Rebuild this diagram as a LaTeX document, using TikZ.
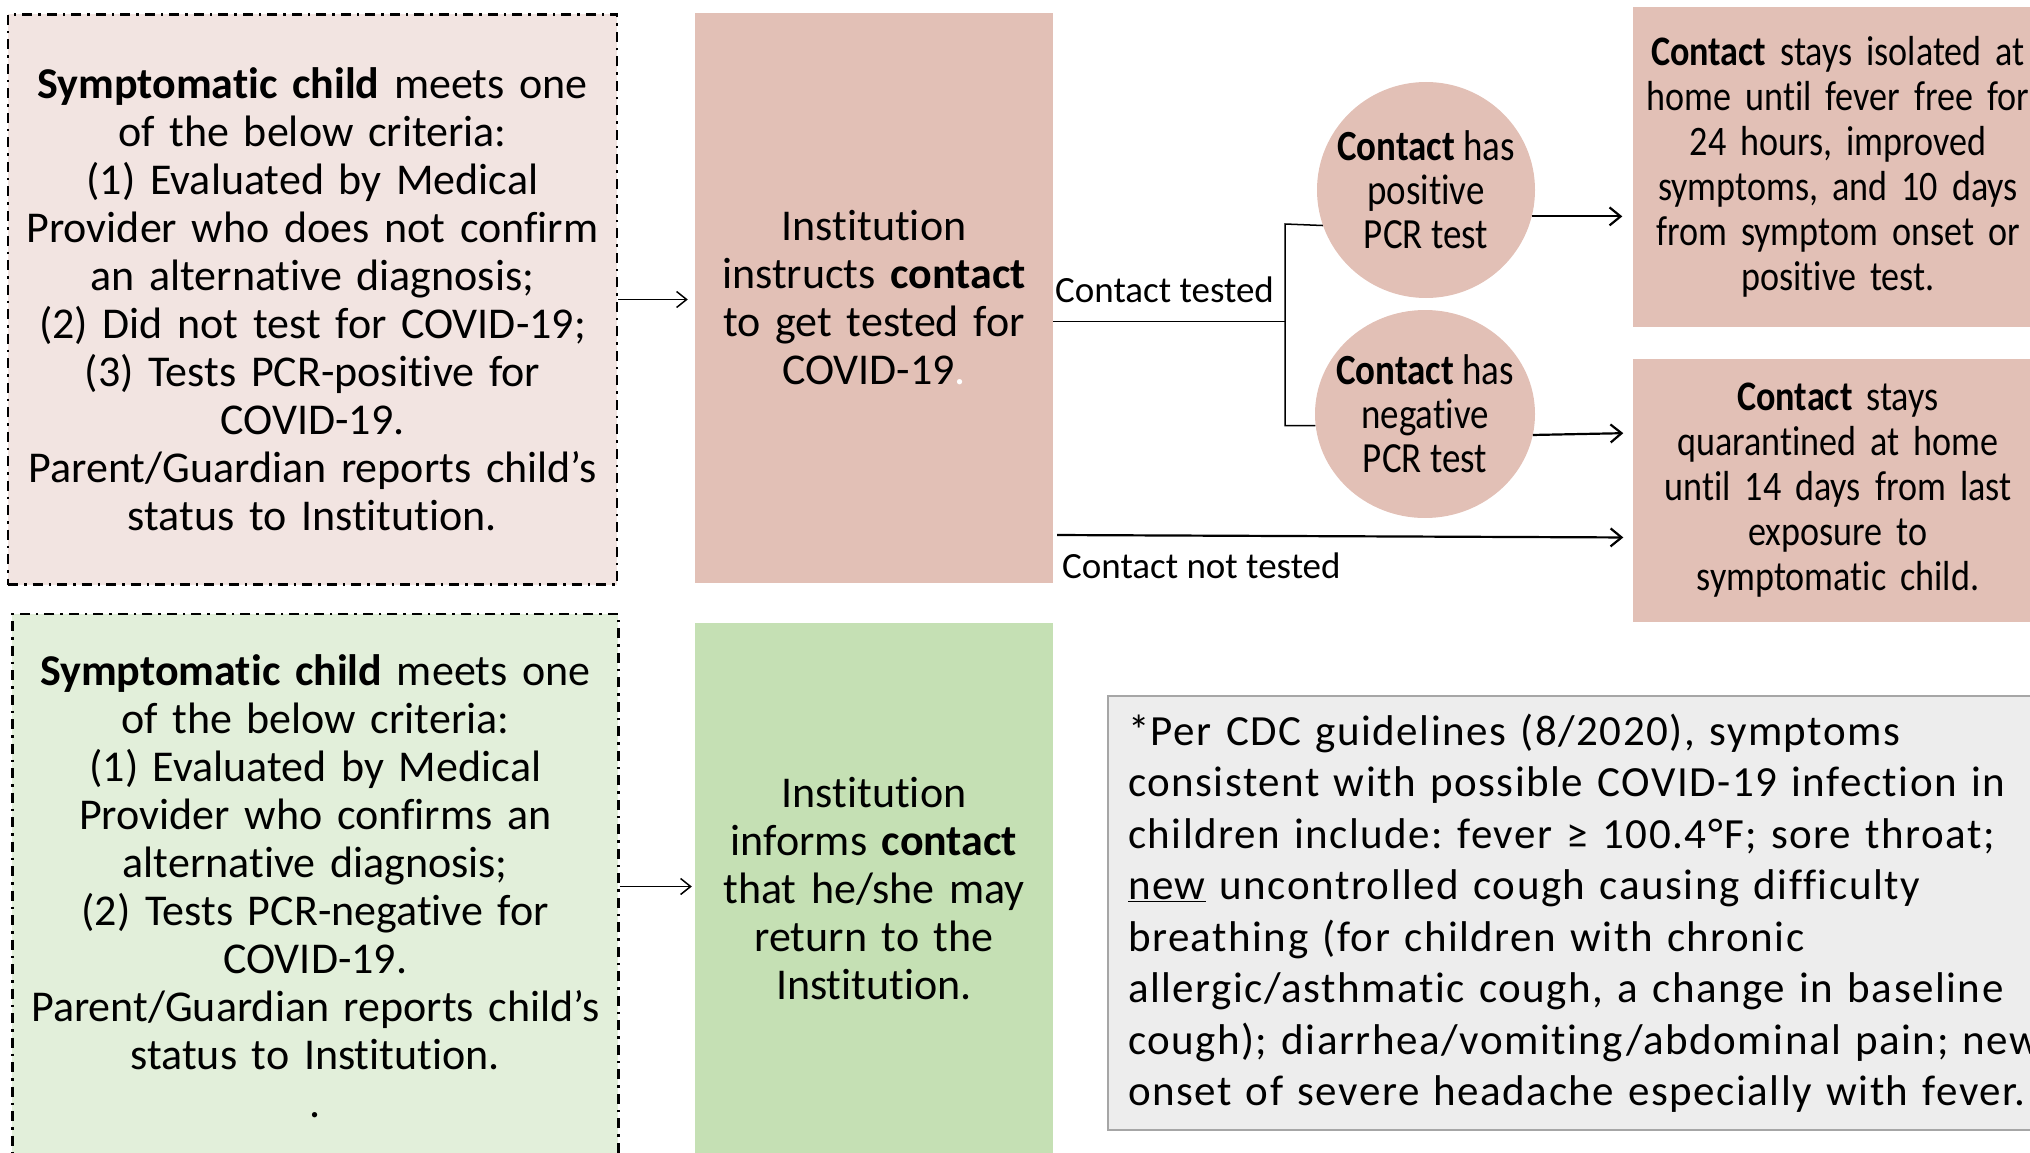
\documentclass[tikz,border=0pt]{standalone}
\usepackage{fontspec}
\defaultfontfeatures{Ligatures={NoCommon,TeX}}
\setmainfont{Carlito}
\newfontfamily\condfont{Carlito}[FakeStretch=0.86]
\newfontfamily\spacedfont{Carlito}[LetterSpace=3.5]
\usetikzlibrary{arrows.meta,shapes.geometric,calc}
\definecolor{pinkA}{HTML}{F2E4E1}
\definecolor{pinkB}{HTML}{E2C0B6}
\definecolor{greenA}{HTML}{E2EFDA}
\definecolor{greenB}{HTML}{C5E0B4}
\definecolor{greyA}{HTML}{EDEDED}
\definecolor{greyB}{HTML}{A6A6A6}
\frenchspacing
\begin{document}
\begin{tikzpicture}[x=1pt,y=-1pt,
  critbox/.style={draw=black, line width=2.5pt, dash pattern=on 10pt off 6pt on 2.5pt off 6pt, inner sep=0pt, align=center, text width=600pt, font=\fontsize{44}{48}\selectfont},
  instbox/.style={inner sep=0pt, align=center, text width=350pt, minimum width=358pt, font=\fontsize{44}{48}\selectfont},
  outbox/.style={fill=pinkB, inner sep=0pt, align=center, text width=400pt, minimum width=411pt, font=\condfont\fontsize{42}{45}\selectfont},
  result/.style={ellipse, fill=pinkB, inner sep=0pt},
  restext/.style={inner sep=0pt, align=center, font=\condfont\fontsize{43}{44}\selectfont},
  notebox/.style={draw=greyB, line width=2.5pt, fill=greyA, text width=1000pt, inner xsep=20pt, inner ysep=0pt, align=left, font=\spacedfont\fontsize{43}{51.5}\selectfont},
  lbl/.style={font=\fontsize{37}{40}\selectfont, inner sep=0pt, anchor=base west},
  thinline/.style={line width=1.5pt},
  arr/.style={line width=2.2pt, -{Straight Barb[length=11pt,width=18pt,line width=2.2pt]}},
  thinarr/.style={line width=1.5pt, -{Straight Barb[length=10pt,width=16pt,line width=1.5pt]}},
]
\useasboundingbox (0,0) rectangle (2030,1153);
\clip (0,0) rectangle (2030,1153);

% left criteria boxes
\node[critbox, fill=pinkA, minimum width=609pt, minimum height=570pt] (tl) at (312.5,299.5)
 {\textbf{Symptomatic child} meets one\\of the below criteria:\\(1) Evaluated by Medical\\Provider who does not confirm\\an alternative diagnosis;\\(2) Did not test for COVID-19;\\(3) Tests PCR-positive for\\COVID-19.\\Parent/Guardian reports child’s\\status to Institution.};
\node[critbox, fill=greenA, minimum width=606pt, minimum height=545pt] (bl) at (315.3,886.5)
 {\textbf{Symptomatic child} meets one\\of the below criteria:\\(1) Evaluated by Medical\\Provider who confirms an\\alternative diagnosis;\\(2) Tests PCR-negative for\\COVID-19.\\Parent/Guardian reports child’s\\status to Institution.\\.};

% institution boxes
\node[instbox, fill=pinkB, minimum height=570pt] (mt) at (874,298)
 {Institution\\instructs \textbf{contact}\\to get tested for\\COVID-19{\color{white}.}};
\node[instbox, fill=greenB, minimum height=532pt] (mb) at (874,889)
 {Institution\\informs \textbf{contact}\\that he/she may\\return to the\\Institution.};

% outcome boxes
\node[outbox, minimum height=319pt] (rt) at (1838,167)
 {\textbf{Contact} stays isolated at\\home until fever free for\\24 hours, improved\\symptoms, and 10 days\\from symptom onset or\\positive test.};
\node[outbox, minimum height=263pt] (rb) at (1838,490.5)
 {\textbf{Contact} stays\\quarantined at home\\until 14 days from last\\exposure to\\symptomatic child.};

% test results
\node[result, minimum width=218pt, minimum height=216pt] (pos) at (1426,190) {};
\node[result, minimum width=220pt, minimum height=208pt] (neg) at (1425,414) {};
\node[restext] (post) at (pos) {\textbf{Contact} has\\positive\\PCR test};
\node[restext] (negt) at (neg) {\textbf{Contact} has\\negative\\PCR test};

% note
\node[notebox, minimum width=1040pt, minimum height=434pt] (note) at (1628,913)
 {*Per CDC guidelines (8/2020), symptoms\\consistent with possible COVID-19 infection in\\children include: fever ≥ 100.4°F; sore throat;\\\underline{new} uncontrolled cough causing difficulty\\breathing (for children with chronic\\allergic/asthmatic cough, a change in baseline\\cough); diarrhea/vomiting/abdominal pain; new\\onset of severe headache especially with fever.};

% labels
\node[lbl] (lt) at (1055,302.7) {Contact tested};
\node[lbl] (lnt) at (1062,578) {Contact not tested};

% connectors
\draw[thinarr, shorten >=7pt] (tl.east) -- (tl.east -| mt.west);
\draw[thinarr, shorten >=3pt] (bl.east) -- (bl.east -| mb.west);

\coordinate (j) at (1285,321.7);
\coordinate (jt) at (1285,224);
\coordinate (jb) at (1285,425.5);
\draw[thinline] ($(mt.east)+(0,23.7)$) -- (j);
\draw[thinline] (pos.199) -- (jt) -- (jb) -- (neg.186);

\draw[arr, shorten >=10pt] (pos.-14) -- (pos.-14 -| rt.west);
\draw[arr, shorten >=9pt] (neg.-11) -- ($(rb.west)+(0,-57.5)$);
\draw[arr, shorten <=4pt, shorten >=9pt] ($(mt.east)+(0,237)$) -- ($(rb.west)+(0,47)$);
\end{tikzpicture}
\end{document}
